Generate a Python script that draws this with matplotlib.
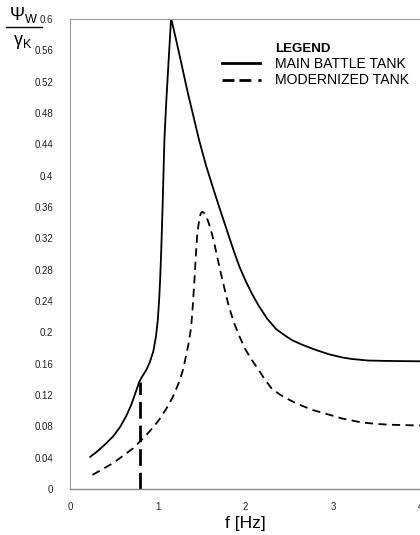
import matplotlib
matplotlib.use("Agg")
import matplotlib.pyplot as plt
from matplotlib.lines import Line2D

plt.rcParams['font.family'] = ['Liberation Sans', 'DejaVu Sans']
plt.rcParams['mathtext.fontset'] = 'custom'
plt.rcParams['mathtext.rm'] = 'Liberation Sans'
plt.rcParams['mathtext.it'] = 'Liberation Sans'

# ---- data ----
mbt_f = [0.23, 0.30, 0.40, 0.49, 0.57, 0.64, 0.70, 0.75, 0.79, 0.83, 0.87, 0.91,
         0.95, 0.98, 1.00, 1.015, 1.027, 1.04, 1.055, 1.076, 1.095, 1.115, 1.135,
         1.152, 1.20, 1.25, 1.34, 1.47, 1.55, 1.62, 1.70, 1.78, 1.86, 1.93, 2.00,
         2.07, 2.15, 2.25, 2.35, 2.45, 2.53, 2.65, 2.79, 2.95, 3.10, 3.21, 3.40,
         3.60, 4.0]
mbt_v = [0.041, 0.047, 0.057, 0.067, 0.079, 0.093, 0.108, 0.124, 0.137, 0.145,
         0.152, 0.162, 0.176, 0.195, 0.215, 0.240, 0.267, 0.305, 0.360, 0.446,
         0.490, 0.530, 0.568, 0.601, 0.578, 0.553, 0.507, 0.446, 0.413, 0.388,
         0.360, 0.333, 0.306, 0.284, 0.266, 0.250, 0.234, 0.217, 0.204, 0.196,
         0.190, 0.184, 0.178, 0.172, 0.168, 0.166, 0.164, 0.1635, 0.163]

mod_f = [0.257, 0.35, 0.49, 0.60, 0.72, 0.80, 0.87, 0.95, 1.02, 1.095, 1.17,
         1.245, 1.29, 1.32, 1.35, 1.38, 1.40, 1.42, 1.435, 1.45, 1.47, 1.49,
         1.51, 1.54, 1.57, 1.60, 1.64, 1.68, 1.73, 1.81, 1.87, 1.93, 2.00, 2.07,
         2.15, 2.22, 2.30, 2.40, 2.53, 2.65, 2.76, 2.95, 3.10, 3.32, 3.50, 3.66,
         4.0]
mod_v = [0.018, 0.024, 0.033, 0.042, 0.052, 0.061, 0.069, 0.079, 0.089, 0.102,
         0.117, 0.137, 0.153, 0.169, 0.185, 0.206, 0.235, 0.270, 0.300, 0.325,
         0.342, 0.352, 0.354, 0.351, 0.343, 0.333, 0.316, 0.295, 0.270, 0.233,
         0.212, 0.195, 0.178, 0.165, 0.152, 0.140, 0.128, 0.120, 0.112, 0.106,
         0.101, 0.095, 0.090, 0.085, 0.083, 0.082, 0.081]

ref_f = 0.8
ref_top = 0.137

x_ticks = [0, 1, 2, 3, 4]
x_tick_labels = ['0', '1', '2', '3', '4']
y_ticks = [0, 0.04, 0.08, 0.12, 0.16, 0.2, 0.24, 0.28, 0.32, 0.36, 0.4, 0.44,
           0.48, 0.52, 0.56, 0.6]
y_tick_labels = ['0', '0.04', '0.08', '0.12', '0.16', '0.2', '0.24', '0.28', '0.32',
                 '0.36', '0.4', '0.44', '0.48', '0.52', '0.56', '0.6']
legend_title = 'LEGEND'
series_names = ['MAIN BATTLE TANK', 'MODERNIZED TANK']

W, H = 420, 535
fig = plt.figure(figsize=(W / 100, H / 100), dpi=100)
ax = fig.add_axes([70 / W, (H - 489) / H, (421 - 70) / W, (489 - 19) / H])

def fx(px):
    return px / W

def fy(py):
    return 1 - py / H

ax.plot(mbt_f, mbt_v, color='black', lw=1.3, solid_joinstyle='round')
ax.plot(mod_f, mod_v, color='black', lw=1.3, dashes=(4.5, 3.0))
ax.vlines(ref_f, 0, ref_top, color='black', lw=2.0, linestyles=(0, (6, 2.5)))

ax.set_xlim(0, 4)
ax.set_ylim(0, 0.6)
ax.set_xticks(x_ticks)
ax.set_xticklabels(x_tick_labels)
ax.set_yticks(y_ticks)
ax.set_yticklabels(y_tick_labels)
ax.tick_params(axis='y', length=0, pad=12, labelsize=7, colors='#222222')
ax.tick_params(axis='x', length=0, pad=9, labelsize=7, colors='#222222')

for s in ['left', 'top']:
    ax.spines[s].set_color('#9a9a9a')
    ax.spines[s].set_linestyle((0, (1, 1)))
    ax.spines[s].set_linewidth(0.8)
ax.spines['bottom'].set_color('#8a8a8a')
ax.spines['bottom'].set_linewidth(1.0)
ax.spines['right'].set_visible(False)

ax.set_xlabel('f [Hz]', fontsize=12.5, labelpad=3)

# y-axis fraction label
fig.text(fx(24), fy(15), r'$\Psi_W$', fontsize=13, ha='center', va='center')
fig.add_artist(Line2D([fx(6), fx(42)], [fy(27), fy(27)], color='black', lw=1.0,
                      transform=fig.transFigure))
fig.text(fx(23), fy(42), r'$\gamma_K$', fontsize=13, ha='center', va='center')

# legend
fig.text(fx(275), fy(49), legend_title, fontsize=9.5, fontweight='bold',
         ha='left', va='center')
fig.text(fx(275), fy(64), series_names[0], fontsize=10.1, ha='left', va='center')
fig.text(fx(275), fy(80), series_names[1], fontsize=10.1, ha='left', va='center')
fig.add_artist(Line2D([fx(222), fx(260)], [fy(63), fy(63)], color='black', lw=2.0,
                      transform=fig.transFigure))
fig.add_artist(Line2D([fx(222), fx(261)], [fy(80), fy(80)], color='black', lw=2.0,
                      dashes=(4.3, 1.8, 4.3, 2.5, 1.2, 20),
                      transform=fig.transFigure))

fig.savefig('out.png', dpi=100)
